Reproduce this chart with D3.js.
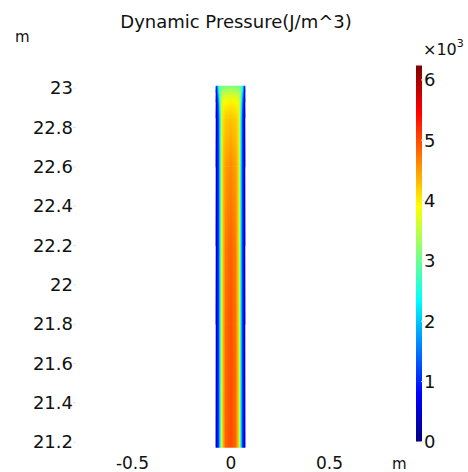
<!DOCTYPE html>
<html>
<head>
<meta charset="utf-8">
<script src="https://cdn.jsdelivr.net/npm/d3@7"></script>
<style>
  body { margin: 0; background: #fff; }
  text { font-family: "DejaVu Sans", sans-serif; fill: #111; }
</style>
</head>
<body>
<div id="plot"></div>
<script>
const WIDTH = 468;
const HEIGHT = 472;

// x / y ticks (m)
const xTicks = [-0.5, 0, 0.5];
const yTicks = [23, 22.8, 22.6, 22.4, 22.2, 22, 21.8, 21.6, 21.4, 21.2];
// colour bar ticks (x10^3 J/m^3)
const cTicks = [0, 1, 2, 3, 4, 5, 6];
const cMin = 0;
const cMax = 6.23;

// sample positions across the channel (m) and along it (m)
const xStations = [-0.075, -0.07, -0.065, -0.06, -0.055, -0.05, -0.045, -0.035, -0.025, 0,
                   0.025, 0.035, 0.045, 0.05, 0.055, 0.06, 0.065, 0.07, 0.075];
const yStations = [23.01, 22.98, 22.93, 22.85, 22.6, 22.2, 21.8, 21.17];

// dynamic pressure (x10^3), one row per yStation
const rowTop   = [0.5, 1.2, 2.0, 2.5, 2.8, 2.9, 3.0, 3.0, 3.05, 3.1, 3.05, 3.0, 3.0, 2.9, 2.8, 2.5, 2.0, 1.2, 0.5];
const row2298  = [0.4, 0.9, 1.6, 2.3, 2.9, 3.2, 3.3, 3.4, 3.45, 3.5, 3.45, 3.4, 3.3, 3.2, 2.9, 2.3, 1.6, 0.9, 0.4];
const row2293  = [0.4, 0.7, 1.1, 1.7, 2.5, 3.2, 3.7, 3.85, 3.9, 3.95, 3.9, 3.85, 3.7, 3.2, 2.5, 1.7, 1.1, 0.7, 0.4];
const row2285  = [0.4, 0.6, 0.9, 1.3, 2.1, 2.9, 3.7, 4.1, 4.2, 4.25, 4.2, 4.1, 3.7, 2.9, 2.1, 1.3, 0.9, 0.6, 0.4];
const row226   = [0.4, 0.6, 0.9, 1.2, 2.0, 2.8, 3.7, 4.3, 4.5, 4.6, 4.5, 4.3, 3.7, 2.8, 2.0, 1.2, 0.9, 0.6, 0.4];
const row222   = [0.4, 0.6, 0.9, 1.2, 2.0, 2.8, 3.7, 4.35, 4.7, 4.85, 4.7, 4.35, 3.7, 2.8, 2.0, 1.2, 0.9, 0.6, 0.4];
const row218   = [0.4, 0.6, 0.9, 1.2, 2.0, 2.8, 3.7, 4.4, 4.8, 4.95, 4.8, 4.4, 3.7, 2.8, 2.0, 1.2, 0.9, 0.6, 0.4];
const rowBot   = [0.4, 0.6, 0.9, 1.2, 2.0, 2.8, 3.7, 4.45, 4.85, 5.0, 4.85, 4.45, 3.7, 2.8, 2.0, 1.2, 0.9, 0.6, 0.4];
const rows = [rowTop, row2298, row2293, row2285, row226, row222, row218, rowBot];

// jet style colour table
const jetPos = [0, 0.125, 0.375, 0.625, 0.875, 1];
const jetColors = ["#00007f", "#0000ff", "#00ffff", "#ffff00", "#ff0000", "#7f0000"];

const svg = d3.select("#plot").append("svg")
    .attr("width", WIDTH)
    .attr("height", HEIGHT);

svg.append("rect").attr("width", WIDTH).attr("height", HEIGHT).attr("fill", "#fff");

const x = d3.scaleLinear().domain([-0.5, 0.5]).range([132, 329]);
const y = d3.scaleLinear().domain([23, 21.2]).range([87.7, 441.7]);

const color = d3.scaleLinear()
    .domain(jetPos.map(p => cMin + p * (cMax - cMin)))
    .range(jetColors)
    .clamp(true);

const defs = svg.append("defs");
const x0 = x(xStations[0]);
const x1 = x(xStations[xStations.length - 1]);

// one horizontal gradient per row
rows.forEach((row, i) => {
  const g = defs.append("linearGradient")
      .attr("id", "row" + i)
      .attr("gradientUnits", "userSpaceOnUse")
      .attr("x1", x0).attr("x2", x1)
      .attr("y1", 0).attr("y2", 0);
  g.selectAll("stop")
    .data(row)
    .enter()
    .append("stop")
      .attr("offset", (d, j) => (x(xStations[j]) - x0) / (x1 - x0))
      .attr("stop-color", d => color(d));
});

// vertical fade used to blend one row into the next
const fade = defs.append("linearGradient")
    .attr("id", "fade")
    .attr("x1", 0).attr("x2", 0).attr("y1", 0).attr("y2", 1);
fade.append("stop").attr("offset", 0).attr("stop-color", "#000");
fade.append("stop").attr("offset", 1).attr("stop-color", "#fff");

const field = svg.append("g");
for (let i = 0; i < rows.length - 1; i++) {
  const top = y(yStations[i]);
  const bot = y(yStations[i + 1]);
  const extra = i < rows.length - 2 ? 1 : 0;
  defs.append("mask")
      .attr("id", "mask" + i)
      .attr("maskUnits", "userSpaceOnUse")
      .attr("x", x0 - 2).attr("y", top - 2)
      .attr("width", x1 - x0 + 4).attr("height", bot - top + 4)
    .append("rect")
      .attr("x", x0 - 2).attr("y", top)
      .attr("width", x1 - x0 + 4).attr("height", bot - top)
      .attr("fill", "url(#fade)");
  field.append("rect")
      .attr("x", x0).attr("y", top)
      .attr("width", x1 - x0).attr("height", bot - top + extra)
      .attr("fill", "url(#row" + i + ")");
  field.append("rect")
      .attr("x", x0).attr("y", top)
      .attr("width", x1 - x0).attr("height", bot - top + extra)
      .attr("fill", "url(#row" + (i + 1) + ")")
      .attr("mask", "url(#mask" + i + ")");
}

// plain hyphen for negatives, as in the original
const fmt = d => String(d);

// y axis
const yAxis = svg.append("g")
    .attr("transform", "translate(76,0)")
    .call(d3.axisLeft(y).tickValues(yTicks).tickFormat(fmt).tickSize(3).tickPadding(0));
yAxis.select(".domain").remove();
yAxis.selectAll("line").attr("stroke", "#e2e2e2");
yAxis.selectAll("text").attr("font-size", 18).attr("font-family", "DejaVu Sans").attr("fill", "#111").attr("dy", "0.34em");

// x axis
const xAxis = svg.append("g")
    .attr("transform", "translate(0,452)")
    .call(d3.axisBottom(x).tickValues(xTicks).tickFormat(fmt).tickSize(0).tickPadding(5));
xAxis.select(".domain").remove();
xAxis.selectAll("text").attr("font-size", 17).attr("font-family", "DejaVu Sans").attr("fill", "#111");

// unit labels and title
svg.append("text").attr("x", 15).attr("y", 42).attr("font-size", 15).text("m");
svg.append("text").attr("x", 392).attr("y", 469).attr("font-size", 15).text("m");
svg.append("text").attr("x", 236).attr("y", 28).attr("font-size", 18)
    .attr("text-anchor", "middle").text("Dynamic Pressure(J/m^3)");

// colour bar
const cy = d3.scaleLinear().domain([cMin, cMax]).range([441.5, 65.5]);
const cGrad = defs.append("linearGradient")
    .attr("id", "cbar")
    .attr("gradientUnits", "userSpaceOnUse")
    .attr("x1", 0).attr("x2", 0)
    .attr("y1", cy(cMin)).attr("y2", cy(cMax));
cGrad.selectAll("stop")
  .data(jetPos)
  .enter()
  .append("stop")
    .attr("offset", d => d)
    .attr("stop-color", (d, i) => jetColors[i]);

svg.append("rect")
    .attr("x", 416).attr("y", cy(cMax))
    .attr("width", 6).attr("height", cy(cMin) - cy(cMax))
    .attr("fill", "url(#cbar)");

const cAxis = svg.append("g")
    .attr("transform", "translate(421,0)")
    .call(d3.axisRight(cy).tickValues(cTicks).tickFormat(d3.format("d")).tickSize(3).tickPadding(0));
cAxis.select(".domain").remove();
cAxis.selectAll("line").attr("stroke", "#e2e2e2");
cAxis.selectAll("text").attr("font-size", 18).attr("font-family", "DejaVu Sans").attr("fill", "#111").attr("dy", "0.36em");

const exp = svg.append("text").attr("x", 423).attr("y", 55).attr("font-size", 16);
exp.append("tspan").text("\u00d710");
exp.append("tspan").attr("font-size", 11).attr("dy", -8).text("3");
</script>
</body>
</html>
